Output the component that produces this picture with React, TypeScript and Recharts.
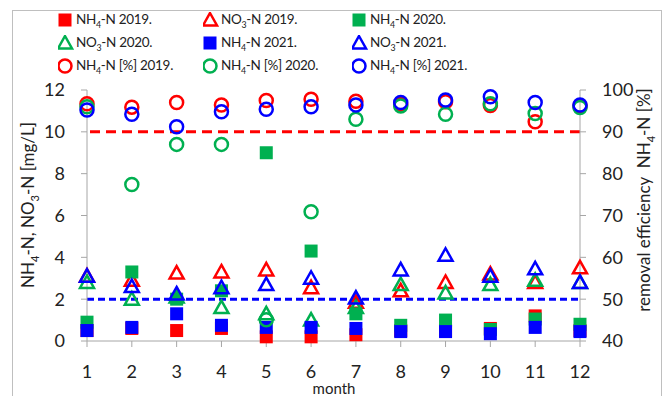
import React from "react";
import { ScatterChart, Scatter, XAxis, YAxis, ReferenceLine } from "recharts";

const months = [1, 2, 3, 4, 5, 6, 7, 8, 9, 10, 11, 12];
const xTicks = [1, 2, 3, 4, 5, 6, 7, 8, 9, 10, 11, 12];
const leftTicks = [0, 2, 4, 6, 8, 10, 12];
const rightTicks = [40, 50, 60, 70, 80, 90, 100];

// concentrations [mg/L]
const nh4_2019 = [0.5, 0.6, 0.5, 0.6, 0.2, 0.2, 0.3, 0.5, 0.5, 0.6, 1.2, 0.5];
const no3_2019 = [3.1, 2.9, 3.25, 3.3, 3.4, 2.55, 1.85, 2.4, 2.8, 3.2, 2.8, 3.5];
const nh4_2020 = [0.9, 3.3, 2.0, 2.4, 9.0, 4.3, 1.3, 0.75, 1.0, 0.55, 1.05, 0.8];
const no3_2020 = [2.8, 2.0, 2.1, 1.6, 1.3, 1.0, 1.6, 2.7, 2.3, 2.7, 2.9, 2.8];
const nh4_2021 = [0.5, 0.65, 1.3, 0.75, 0.65, 0.65, 0.6, 0.45, 0.45, 0.35, 0.65, 0.45];
const no3_2021 = [3.1, 2.6, 2.25, 2.55, 2.7, 3.0, 2.05, 3.4, 4.1, 3.1, 3.45, 2.8];

// removal efficiency NH4-N [%]
const eff_2019 = [96.7, 95.9, 97.0, 96.4, 97.5, 97.8, 97.3, 96.6, 97.2, 96.3, 92.4, 96.2];
const eff_2020 = [96.0, 77.4, 87.0, 87.0, 45.1, 70.9, 93.0, 96.2, 94.2, 96.7, 94.4, 95.8];
const eff_2021 = [95.2, 94.2, 91.2, 94.8, 95.4, 96.0, 96.4, 97.0, 97.6, 98.4, 97.0, 96.4];

const limitEff = 90;
const limitNo3 = 2;

const RED = "#ff0000";
const GREEN = "#00b050";
const BLUE = "#0000ff";

type Kind = "square" | "triangle" | "circle";

const toPoints = (vals: number[]) => months.map((m, i) => ({ month: m, v: vals[i] }));

const series: { key: string; label: string; year: string; data: number[]; axis: string; color: string; kind: Kind }[] = [
  { key: "nh4_2019", label: "NH4", year: "2019.", data: nh4_2019, axis: "left", color: RED, kind: "square" },
  { key: "no3_2019", label: "NO3", year: "2019.", data: no3_2019, axis: "left", color: RED, kind: "triangle" },
  { key: "nh4_2020", label: "NH4", year: "2020.", data: nh4_2020, axis: "left", color: GREEN, kind: "square" },
  { key: "no3_2020", label: "NO3", year: "2020.", data: no3_2020, axis: "left", color: GREEN, kind: "triangle" },
  { key: "nh4_2021", label: "NH4", year: "2021.", data: nh4_2021, axis: "left", color: BLUE, kind: "square" },
  { key: "no3_2021", label: "NO3", year: "2021.", data: no3_2021, axis: "left", color: BLUE, kind: "triangle" },
  { key: "eff_2019", label: "EFF", year: "2019.", data: eff_2019, axis: "right", color: RED, kind: "circle" },
  { key: "eff_2020", label: "EFF", year: "2020.", data: eff_2020, axis: "right", color: GREEN, kind: "circle" },
  { key: "eff_2021", label: "EFF", year: "2021.", data: eff_2021, axis: "right", color: BLUE, kind: "circle" },
];

function Marker({ kind, color, cx, cy }: { kind: Kind; color: string; cx: number; cy: number }) {
  if (kind === "square") {
    return <rect x={cx - 6.5} y={cy - 6.5} width={13} height={13} fill={color} />;
  }
  if (kind === "triangle") {
    return (
      <polygon
        points={`${cx},${cy - 7} ${cx + 7},${cy + 5.5} ${cx - 7},${cy + 5.5}`}
        fill="none"
        stroke={color}
        strokeWidth={2.5}
      />
    );
  }
  return <circle cx={cx} cy={cy} r={6.5} fill="none" stroke={color} strokeWidth={2.5} />;
}

const sub = { fontSize: "0.65em" };

function LegendText({ label, year }: { label: string; year: string }) {
  if (label === "NO3") {
    return (
      <span>
        NO<sub style={sub}>3</sub>-N {year}
      </span>
    );
  }
  if (label === "EFF") {
    return (
      <span>
        NH<sub style={sub}>4</sub>-N [%] {year}
      </span>
    );
  }
  return (
    <span>
      NH<sub style={sub}>4</sub>-N {year}
    </span>
  );
}

const legendCols = [58, 203, 352];
const legendRows = [20, 43, 66];

const FONT = "Lato, 'Open Sans', sans-serif";

export default function App() {
  return (
    <div style={{ position: "fixed", left: 0, top: 0, width: 669, height: 396, background: "#fff", fontFamily: FONT, overflow: "hidden" }}>
      <div style={{ position: "absolute", left: 12, top: 10, width: 650, height: 400, border: "1px solid #bfbfbf", boxSizing: "border-box" }} />

      {series.map((s, i) => {
        const left = legendCols[i % 3];
        const top = legendRows[Math.floor(i / 3)];
        return (
          <div key={s.key} style={{ position: "absolute", left, top: top - 10, height: 20, display: "flex", alignItems: "center", fontSize: 13.5, letterSpacing: -0.3, color: "#222", whiteSpace: "nowrap" }}>
            <svg width={16} height={16} style={{ marginRight: 2 }}>
              <Marker kind={s.kind} color={s.color} cx={7} cy={8} />
            </svg>
            <LegendText label={s.label} year={s.year} />
          </div>
        );
      })}

      <ScatterChart width={669} height={396} margin={{ top: 90, right: 0, bottom: 0, left: 0 }} style={{ position: "absolute", left: 0, top: 0 }}>
        <XAxis
          type="number"
          dataKey="month"
          domain={[1, 12]}
          ticks={xTicks}
          interval={0}
          height={55}
          axisLine={{ stroke: "#a6a6a6" }}
          tickLine={{ stroke: "#a6a6a6" }}
          tickSize={6}
          tickMargin={18}
          tick={{ fill: "#222", fontSize: 18, fontFamily: FONT }}
        />
        <YAxis
          yAxisId="left"
          type="number"
          dataKey="v"
          domain={[0, 12]}
          ticks={leftTicks}
          width={87}
          axisLine={{ stroke: "#a6a6a6" }}
          tickLine={{ stroke: "#a6a6a6" }}
          tickSize={6}
          tickMargin={16}
          tick={{ fill: "#222", fontSize: 18, fontFamily: FONT }}
        />
        <YAxis
          yAxisId="right"
          orientation="right"
          type="number"
          dataKey="v"
          domain={[40, 100]}
          ticks={rightTicks}
          width={89}
          axisLine={{ stroke: "#a6a6a6" }}
          tickLine={{ stroke: "#a6a6a6" }}
          tickSize={6}
          tickMargin={16}
          tick={{ fill: "#222", fontSize: 18, fontFamily: FONT, textAnchor: "start" }}
        />
        <ReferenceLine yAxisId="right" y={limitEff} stroke={RED} strokeWidth={3} strokeDasharray="10 6" />
        <ReferenceLine yAxisId="left" y={limitNo3} stroke={BLUE} strokeWidth={3} strokeDasharray="7 4" />
        {series.map((s) => (
          <Scatter
            key={s.key}
            name={s.key}
            data={toPoints(s.data)}
            yAxisId={s.axis}
            isAnimationActive={false}
            shape={(p: any) =>
              p.cx == null || p.cy == null ? <g /> : <Marker kind={s.kind} color={s.color} cx={p.cx} cy={p.cy} />
            }
          />
        ))}
      </ScatterChart>

      <div style={{ position: "absolute", left: 29, top: 205, transform: "translate(-50%, -50%) rotate(-90deg)", whiteSpace: "nowrap", fontSize: 17, color: "#222" }}>
        NH<sub style={sub}>4</sub>-N, NO<sub style={sub}>3</sub>-N [mg/L]
      </div>
      <div style={{ position: "absolute", left: 645, top: 200, transform: "translate(-50%, -50%) rotate(-90deg)", whiteSpace: "nowrap", fontSize: 17, color: "#222" }}>
        removal efficiency&nbsp;&nbsp;NH<sub style={sub}>4</sub>-N [%]
      </div>
      <div style={{ position: "absolute", left: 334, top: 388, transform: "translate(-50%, -50%)", whiteSpace: "nowrap", fontSize: 15, lineHeight: "15px", color: "#222" }}>
        month
      </div>
    </div>
  );
}
